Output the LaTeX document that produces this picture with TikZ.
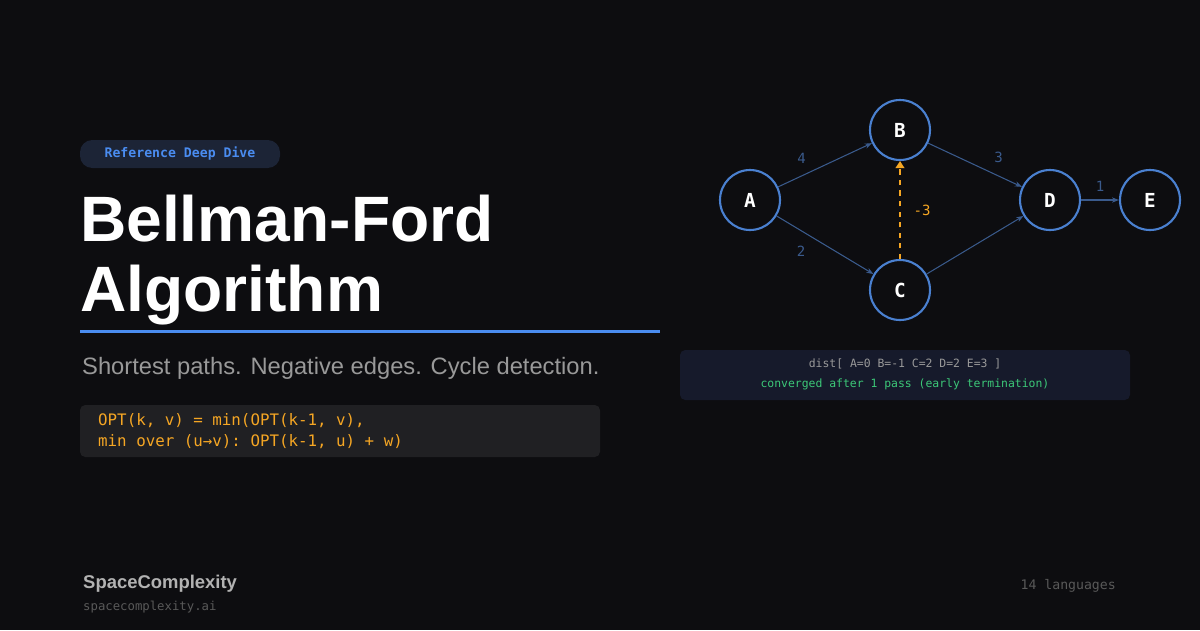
\documentclass[tikz,border=0pt]{standalone}
\usepackage{fontspec}
\setmainfont{Liberation Sans}
\setmonofont{DejaVu Sans Mono}
\usetikzlibrary{arrows.meta,positioning}
\definecolor{bgdark}{HTML}{0D0D10}
\definecolor{nodeblue}{HTML}{4A80D0}
\definecolor{edgeblue}{HTML}{3A5A8C}
\definecolor{accent}{HTML}{4A8CF0}
\definecolor{badgefill}{HTML}{1C2436}
\definecolor{distfill}{HTML}{161A2B}
\definecolor{negorange}{HTML}{F5A623}
\definecolor{okgreen}{HTML}{3CC878}
\tikzset{
    vert/.style = {circle,draw=nodeblue,line width=1.2pt,fill=bgdark,text=white,
                   minimum size=1.2cm,inner sep=0pt,font=\ttfamily\bfseries\fontsize{11}{12}\selectfont},
    wedge/.style = {-{Stealth[length=4pt]},edgeblue,line width=0.6pt},
    negedge/.style = {-{Triangle[length=4pt,width=5pt]},negorange,dashed,line width=0.8pt},
    wlabel/.style = {text=edgeblue,font=\ttfamily\fontsize{8}{9}\selectfont},
    panel/.style = {rounded corners=3pt,draw=none}
}
\begin{document}
\begin{tikzpicture}[x=0.02cm,y=-0.02cm]
\fill[bgdark] (0,0) rectangle (1200,630);
\useasboundingbox (0,0) rectangle (1200,630);
% left column
\fill[badgefill,rounded corners=7pt] (80,140) rectangle (280,168);
\node (badge) at (180,154) {\ttfamily\bfseries\fontsize{7.5}{9}\selectfont\color{accent}Reference Deep Dive};
\node[anchor=west,text=white,font=\bfseries\fontsize{36.5}{39.7}\selectfont,align=left] (title) at (74,260)
    {Bellman-Ford\\Algorithm};
\draw[accent,line width=1.7pt] (80,331) -- (660,331);
\node[anchor=west,text=gray!80,font=\fontsize{13.5}{15}\selectfont] (sub) at (76,368)
    {Shortest paths. Negative edges. Cycle detection.};
\fill[panel,fill=white!8!bgdark] (80,405) rectangle (600,457);
\node[anchor=west,text=negorange,font=\ttfamily\fontsize{9}{12}\selectfont,align=left] (opt) at (92,431)
    {OPT(k, v) = min(OPT(k-1, v),\\min over (u→v): OPT(k-1, u) + w)};
% graph
\node[vert] (A) at (750,200) {A};
\node[vert] (B) at (900,130) {B};
\node[vert] (C) at (900,290) {C};
\node[vert] (D) at (1050,200) {D};
\node[vert] (E) at (1150,200) {E};
\draw[wedge] (A) -- node[wlabel,above left=0pt and 2pt,pos=0.4] {4} (B);
\draw[wedge] (A) -- node[wlabel,below left=0pt and 2pt,pos=0.4] {2} (C);
\draw[wedge] (B) -- node[wlabel,above right=0pt and 2pt,pos=0.6] {3} (D);
\draw[wedge] (C) -- (D);
\draw[wedge] (D) -- node[wlabel,above=1pt] {1} (E);
\draw[negedge] (C) -- node[right=4pt,text=negorange,font=\ttfamily\fontsize{8}{9}\selectfont] {-3} (B);
% result panel
\fill[panel,fill=distfill] (680,350) rectangle (1130,400);
\node[text=gray!80,font=\ttfamily\fontsize{6.5}{8}\selectfont] (dist) at (905,364) {dist[ A=0 B=-1 C=2 D=2 E=3 ]};
\node[text=okgreen,font=\ttfamily\fontsize{6.5}{8}\selectfont] (conv) at (905,384) {converged after 1 pass (early termination)};
% footer
\node[anchor=west,text=gray!60!white,font=\bfseries\fontsize{10.5}{12}\selectfont] (brand) at (77,584) {SpaceComplexity};
\node[anchor=west,text=gray!70!black,font=\ttfamily\fontsize{7}{8}\selectfont] (url) at (77,607) {spacecomplexity.ai};
\node[anchor=east,text=gray!70!black,font=\ttfamily\fontsize{7.5}{8}\selectfont] (langs) at (1122,586) {14 languages};
\end{tikzpicture}
\end{document}
